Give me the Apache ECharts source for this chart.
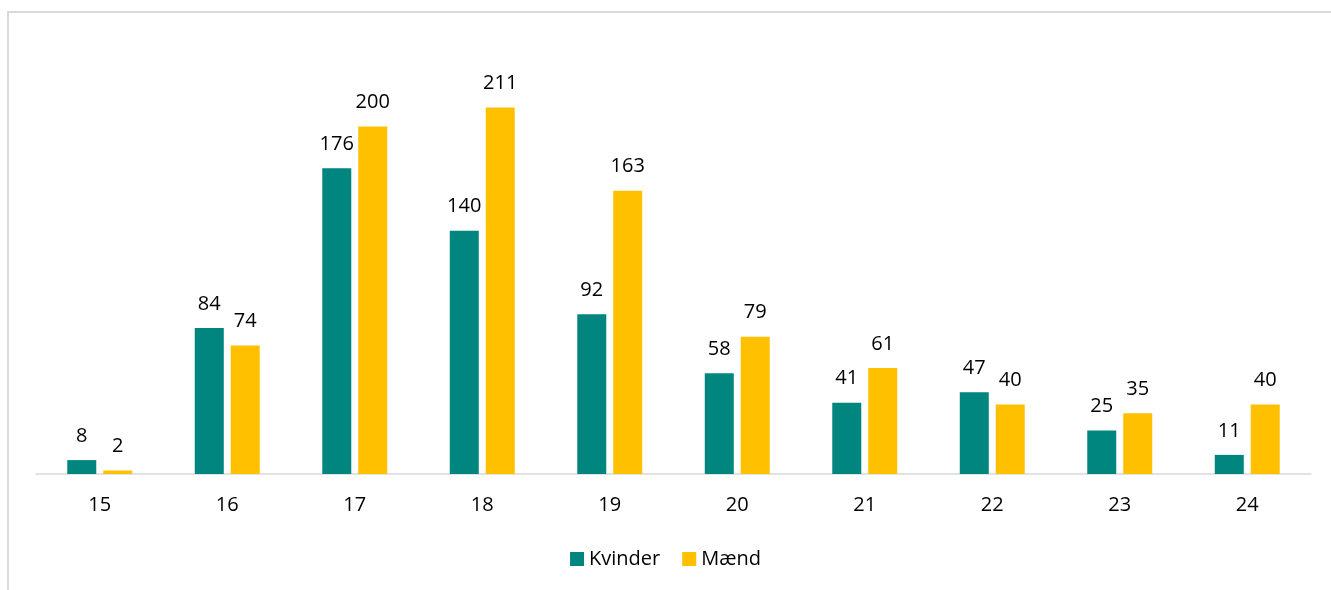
<!DOCTYPE html>
<html>
<head>
<meta charset="utf-8">
<script src="https://cdn.jsdelivr.net/npm/echarts@6/dist/echarts.min.js"></script>
<style>
  html, body { margin: 0; padding: 0; background: #fff; }
  #frame {
    position: absolute; left: 7px; top: 11px; width: 1324px; height: 579px;
    border-top: 2px solid #d9d9d9; border-left: 2px solid #d9d9d9; box-sizing: border-box;
  }
  #chart { position: absolute; left: 0; top: 0; width: 1331px; height: 590px; }
</style>
</head>
<body>
<div id="frame"></div>
<div id="chart"></div>
<script>
const ages = ['15', '16', '17', '18', '19', '20', '21', '22', '23', '24'];
const kvinder = [8, 84, 176, 140, 92, 58, 41, 47, 25, 11];
const maend = [2, 74, 200, 211, 163, 79, 61, 40, 35, 40];

const font = '"Open Sans", "Noto Sans", sans-serif';

const chart = echarts.init(document.getElementById('chart'));

const labelStyle = {
    show: true,
    position: 'top',
    distance: 14,
    fontSize: 20,
    fontFamily: font,
    color: '#000'
};

chart.setOption({
    animation: false,
    grid: { left: 36, right: 20, top: 57, height: 417 },
    legend: {
        bottom: 16,
        itemWidth: 14,
        itemHeight: 14,
        itemGap: 22,
        icon: 'rect',
        textStyle: { fontSize: 20, fontFamily: font, color: '#000' },
        data: ['Kvinder', 'Mænd']
    },
    xAxis: {
        type: 'category',
        data: ages,
        axisLine: { lineStyle: { color: '#d9d9d9', width: 1.5 } },
        axisTick: { show: false },
        axisLabel: { fontSize: 20, fontFamily: font, color: '#000', margin: 21 }
    },
    yAxis: {
        type: 'value',
        min: 0,
        max: 240,
        show: false,
        splitLine: { show: false }
    },
    series: [
        {
            name: 'Kvinder',
            type: 'bar',
            data: kvinder,
            barWidth: 29,
            barGap: '24%',
            itemStyle: { color: '#00857F' },
            label: labelStyle
        },
        {
            name: 'Mænd',
            type: 'bar',
            data: maend,
            barWidth: 29,
            itemStyle: { color: '#FFC000' },
            label: labelStyle
        }
    ]
});
</script>
</body>
</html>
